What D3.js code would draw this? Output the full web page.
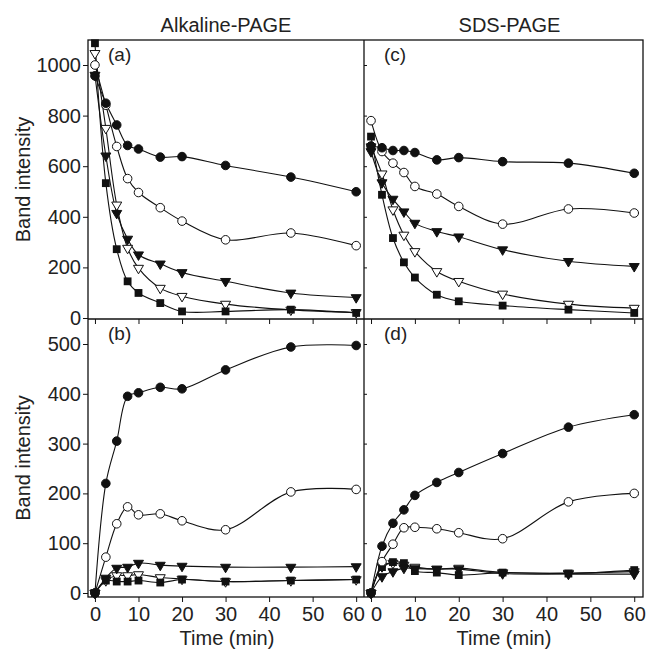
<!DOCTYPE html>
<html><head><meta charset="utf-8">
<script src="https://cdn.jsdelivr.net/npm/d3@7/dist/d3.min.js"></script>
<style>body{margin:0;background:#fff}svg{display:block}text{font-family:"Liberation Sans",Arial,sans-serif;fill:#222}</style>
</head><body><svg id="c" width="646" height="650"></svg>
<script>
const times = [0, 2.5, 5, 7.5, 10, 15, 20, 30, 45, 60];
const seriesKeys = ["filledCircle", "openCircle", "filledTriangle", "openTriangle", "filledSquare"];

// (a) Alkaline-PAGE, top
const a_filledCircle   = [957, 849, 763, 682, 668, 636, 638, 603, 557, 499];
const a_openCircle     = [1000, 841, 678, 551, 496, 436, 383, 309, 336, 286];
const a_filledTriangle = [960, 641, 414, 312, 250, 214, 180, 145, 99, 81];
const a_openTriangle   = [1046, 750, 447, 276, 197, 118, 86, 55, 32, 22];
const a_filledSquare   = [1086, 533, 272, 145, 99, 59, 26, 26, 33, 20];

// (c) SDS-PAGE, top
const c_filledCircle   = [680, 673, 662, 662, 654, 625, 634, 618, 612, 572];
const c_openCircle     = [780, 658, 612, 575, 520, 490, 441, 371, 431, 415];
const c_filledTriangle = [658, 535, 470, 420, 375, 342, 321, 270, 224, 204];
const c_openTriangle   = [677, 570, 428, 328, 263, 184, 145, 95, 55, 39];
const c_filledSquare   = [717, 487, 316, 220, 160, 92, 66, 49, 33, 20];

// (b) Alkaline-PAGE, bottom
const b_filledCircle   = [0, 220, 305, 395, 402, 413, 410, 448, 494, 497];
const b_openCircle     = [0, 72, 139, 173, 157, 159, 145, 127, 203, 208];
const b_filledTriangle = [0, 30, 50, 52, 60, 56, 54, 52, 52, 53];
const b_openTriangle   = [0, 25, 35, 35, 37, 31, 28, 23, 25, 27];
const b_filledSquare   = [0, 25, 23, 23, 25, 21, 27, 23, 25, 27];

// (d) SDS-PAGE, bottom
const d_filledCircle   = [0, 94, 140, 167, 196, 222, 242, 280, 333, 358];
const d_openCircle     = [0, 63, 98, 131, 132, 129, 121, 109, 183, 200];
const d_filledTriangle = [0, 33, 43, 50, 49, 48, 48, 39, 38, 38];
const d_openTriangle   = [0, 53, 60, 56, 52, 48, 50, 41, 40, 43];
const d_filledSquare   = [0, 52, 62, 60, 44, 41, 36, 41, 39, 46];

const xTickValues = [0, 10, 20, 30, 40, 50, 60];
const yTopTicks = [0, 200, 400, 600, 800, 1000];
const yBotTicks = [0, 100, 200, 300, 400, 500];
const columnTitles = ["Alkaline-PAGE", "SDS-PAGE"];
const panelLabels = ["(a)", "(c)", "(b)", "(d)"];
const yTitle = "Band intensity";
const xTitle = "Time (min)";

const svg = d3.select("#c");
const TOP = 40, MID = 319, BOT = 597;
const xL = d3.scaleLinear().domain([-1.6, 61.8]).range([88, 364]);
const xR = d3.scaleLinear().domain([-1.6, 62]).range([364, 643]);
const yT = d3.scaleLinear().domain([0, 1000]).range([318, 65]);
const yB = d3.scaleLinear().domain([0, 500]).range([593, 344]);

const panels = [
  {x: xL, y: yT, data: {filledCircle:a_filledCircle, openCircle:a_openCircle, filledTriangle:a_filledTriangle, openTriangle:a_openTriangle, filledSquare:a_filledSquare}, label: panelLabels[0], top: TOP, bottom: MID},
  {x: xR, y: yT, data: {filledCircle:c_filledCircle, openCircle:c_openCircle, filledTriangle:c_filledTriangle, openTriangle:c_openTriangle, filledSquare:c_filledSquare}, label: panelLabels[1], top: TOP, bottom: MID},
  {x: xL, y: yB, data: {filledCircle:b_filledCircle, openCircle:b_openCircle, filledTriangle:b_filledTriangle, openTriangle:b_openTriangle, filledSquare:b_filledSquare}, label: panelLabels[2], top: MID, bottom: BOT},
  {x: xR, y: yB, data: {filledCircle:d_filledCircle, openCircle:d_openCircle, filledTriangle:d_filledTriangle, openTriangle:d_openTriangle, filledSquare:d_filledSquare}, label: panelLabels[3], top: MID, bottom: BOT}
];

// frame
svg.append("rect").attr("x", 88).attr("y", TOP).attr("width", 643-88).attr("height", BOT-TOP)
  .attr("fill", "none").attr("stroke", "#111").attr("stroke-width", 1.3);
svg.append("line").attr("x1", 364).attr("x2", 364).attr("y1", TOP).attr("y2", BOT).attr("stroke", "#111").attr("stroke-width", 1.3);
svg.append("line").attr("x1", 88).attr("x2", 643).attr("y1", MID).attr("y2", MID).attr("stroke", "#111").attr("stroke-width", 1.5);

function styleAxis(g){ g.select(".domain").remove(); g.selectAll("line").attr("stroke","#111"); g.selectAll("text").attr("fill","#222").style("font-size","20px").style("font-family","'Liberation Sans',Arial,sans-serif"); }

// y axes left
svg.append("g").attr("transform", "translate(88,0)")
  .call(d3.axisLeft(yT).tickValues(yTopTicks).tickSize(5).tickPadding(2).tickFormat(d3.format("d"))).call(styleAxis);
svg.append("g").attr("transform", "translate(88,0)")
  .call(d3.axisLeft(yB).tickValues(yBotTicks).tickSize(5).tickPadding(2).tickFormat(d3.format("d"))).call(styleAxis);
// inner y ticks on right panels
svg.append("g").attr("transform", "translate(364,0)")
  .call(d3.axisRight(yT).tickValues(yTopTicks.slice(1)).tickSize(3).tickFormat("")).call(styleAxis);
svg.append("g").attr("transform", "translate(364,0)")
  .call(d3.axisRight(yB).tickValues(yBotTicks.slice(1)).tickSize(3).tickFormat("")).call(styleAxis);

// x ticks at middle boundary (down into bottom panels) and at bottom
[xL, xR].forEach((xs, pi) => {
  svg.append("g").attr("transform", `translate(0,${MID})`)
    .call(d3.axisBottom(xs).tickValues(xTickValues).tickSize(5).tickFormat("")).call(styleAxis);
  const ax = svg.append("g").attr("transform", `translate(0,${BOT})`)
    .call(d3.axisBottom(xs).tickValues(xTickValues).tickSize(5).tickPadding(5).tickFormat(d3.format("d"))).call(styleAxis);
  ax.selectAll(".tick text").attr("dx", d => (pi === 0 && d === 60) ? -3 : (pi === 1 && d === 0) ? 5 : 0);
});

// titles
svg.append("text").attr("x", (88+364)/2).attr("y", 32).attr("text-anchor","middle").style("font-size","20px").text(columnTitles[0]);
svg.append("text").attr("x", (364+643)/2+6).attr("y", 32).attr("text-anchor","middle").style("font-size","20px").text(columnTitles[1]);
[[TOP,MID],[MID,BOT]].forEach(([t,b]) => {
  svg.append("text").attr("transform", `translate(30,${(t+b)/2}) rotate(-90)`).attr("text-anchor","middle").style("font-size","20px").text(yTitle);
});
svg.append("text").attr("x", 227).attr("y", 645).attr("text-anchor","middle").style("font-size","20px").text(xTitle);
svg.append("text").attr("x", 504).attr("y", 645).attr("text-anchor","middle").style("font-size","20px").text(xTitle);

const line = (xs, ys) => d3.line().x((d,i)=>xs(times[i])).y(d=>ys(d)).curve(d3.curveCatmullRom.alpha(0.5));

function drawMarker(g, key, cx, cy){
  const black = "#111";
  if (key === "filledCircle" || key === "openCircle") {
    g.append("circle").attr("cx", cx).attr("cy", cy).attr("r", 4.3)
      .attr("fill", key === "filledCircle" ? black : "#fff").attr("stroke", black).attr("stroke-width", 1);
  } else if (key === "filledSquare") {
    g.append("rect").attr("x", cx-3.9).attr("y", cy-3.9).attr("width", 7.8).attr("height", 7.8).attr("fill", black);
  } else {
    const w = 5, h = 8.5;
    const pts = [[cx-w, cy-h/3], [cx+w, cy-h/3], [cx, cy+2*h/3]];
    g.append("path").attr("d", "M" + pts.map(p=>p.join(",")).join("L") + "Z")
      .attr("fill", key === "filledTriangle" ? black : "#fff").attr("stroke", black).attr("stroke-width", 1);
  }
}

panels.forEach(p => {
  const g = svg.append("g");
  seriesKeys.forEach(k => {
    g.append("path").attr("d", line(p.x, p.y)(p.data[k])).attr("fill","none").attr("stroke","#111").attr("stroke-width",1.1);
  });
  ["openTriangle","filledSquare","filledTriangle","openCircle","filledCircle"].forEach(k => {
    p.data[k].forEach((v,i) => drawMarker(g, k, p.x(times[i]), p.y(v)));
  });
  svg.append("text").attr("x", p.x.range()[0] + 20).attr("y", p.top + 21).style("font-size","19px").text(p.label);
});
</script></body></html>
